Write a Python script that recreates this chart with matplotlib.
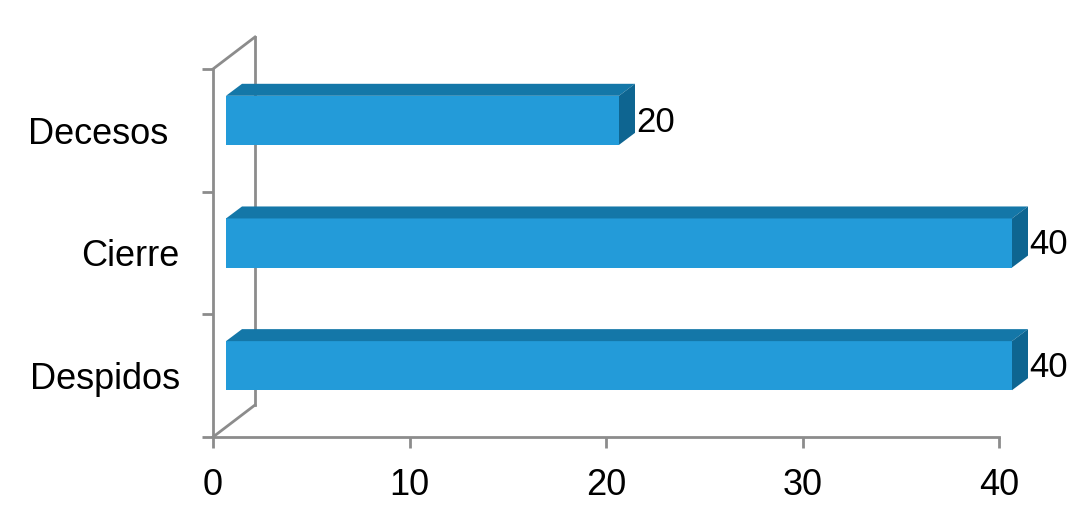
import matplotlib.pyplot as plt
from matplotlib.patches import Polygon
from matplotlib.transforms import ScaledTranslation

# arial benzeri font
plt.rcParams['font.family'] = ['Liberation Sans', 'DejaVu Sans']

# data
categories = ["Despidos", "Cierre", "Decesos"]
values = [40, 40, 20]
x_ticks = [0, 10, 20, 30, 40]

# colors (front / top / side of the bars)
front_color = "#239BD9"
top_color = "#1477A8"
side_color = "#0E6591"
axis_color = "#8C8C8C"

fig = plt.figure(figsize=(10.87, 5.18), dpi=100)
ax = fig.add_axes([213 / 1087, 81 / 518, 786 / 1087, 368 / 518])
ax.set_xlim(0, 40)
ax.set_ylim(-0.5, len(categories) - 0.5)

# fake 3d: depth offsets in data units (measured in pixels, then converted)
px_x = 786 / 40
px_y = 368 / len(categories)
wall_dx, wall_dy = 42 / px_x, 32 / px_y
front_dx, front_dy = 13 / px_x, 10 / px_y
back_dx, back_dy = 29 / px_x, 22 / px_y
half_h = 0.2

# side wall lines
lw = 2.0
y_lo, y_hi = -0.5, len(categories) - 0.5
ax.plot([0, wall_dx], [y_hi, y_hi + wall_dy], color=axis_color, lw=lw, clip_on=False, zorder=1)
ax.plot([0, wall_dx], [y_lo, y_lo + wall_dy], color=axis_color, lw=lw, clip_on=False, zorder=1)
ax.plot([wall_dx, wall_dx], [y_lo + wall_dy, y_hi + wall_dy], color=axis_color, lw=lw,
        clip_on=False, zorder=1)

# bars
ys = list(range(len(categories)))
bars = ax.barh([y + front_dy for y in ys], values, height=2 * half_h, left=front_dx,
               color=front_color, zorder=3)
for b in bars:
    b.set_clip_on(False)

for y, v in zip(ys, values):
    top = [(front_dx, y + half_h + front_dy),
           (front_dx + v, y + half_h + front_dy),
           (back_dx + v, y + half_h + back_dy),
           (back_dx, y + half_h + back_dy)]
    side = [(front_dx + v, y - half_h + front_dy),
            (front_dx + v, y + half_h + front_dy),
            (back_dx + v, y + half_h + back_dy),
            (back_dx + v, y - half_h + back_dy)]
    ax.add_patch(Polygon(top, closed=True, facecolor=top_color, edgecolor="none",
                         zorder=3, clip_on=False))
    ax.add_patch(Polygon(side, closed=True, facecolor=side_color, edgecolor="none",
                         zorder=3, clip_on=False))
    # value label
    ax.text(v + back_dx + 0.05, y + front_dy - 0.015, str(v), ha="left", va="center",
            fontsize=25, color="black", clip_on=False)

# axes styling
for s in ["top", "right"]:
    ax.spines[s].set_visible(False)
for s in ["left", "bottom"]:
    ax.spines[s].set_color(axis_color)
    ax.spines[s].set_linewidth(lw)
    ax.spines[s].set_zorder(2)

ax.set_xticks(x_ticks)
ax.set_xticklabels([str(t) for t in x_ticks])
ax.tick_params(axis="x", direction="out", length=8, width=lw, color=axis_color,
               labelsize=26, pad=14)

ax.set_yticks(ys)
ax.set_yticklabels(categories)
ax.set_yticks([y - 0.5 for y in ys] + [y_hi], minor=True)
ax.tick_params(axis="y", which="major", length=0, labelsize=26, pad=24)
ax.tick_params(axis="y", which="minor", direction="out", length=8, width=lw, color=axis_color)

# "Decesos" sits a bit more to the left in the original
lbl = ax.get_yticklabels()[2]
lbl.set_transform(lbl.get_transform() + ScaledTranslation(-0.11, 0, fig.dpi_scale_trans))

fig.savefig("out.png", dpi=100)
